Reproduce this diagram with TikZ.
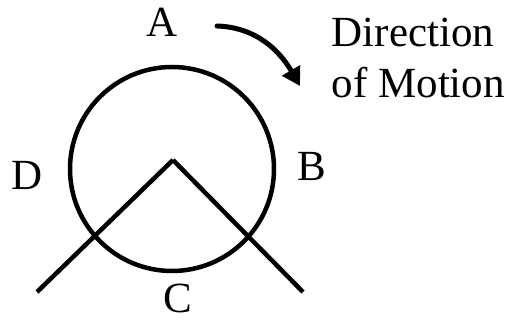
\documentclass[tikz,border=0pt]{standalone}
\usepackage{fontspec}
\setmainfont{Liberation Serif}
\usetikzlibrary{arrows.meta}
\begin{document}
\begin{tikzpicture}[x=1pt,y=1pt,
    lbl/.style={font=\fontsize{43}{51}\selectfont,inner sep=0pt},
    bar/.style={line width=4.5pt}]
    \useasboundingbox (0,0) rectangle (506,320);
    \draw[bar] (172,151) circle (102pt);
    \coordinate (apex) at (173,160);
    \coordinate (leftend) at (37,28);
    \coordinate (rightend) at (303,28);
    \draw[bar] (apex) -- (leftend);
    \draw[bar] (apex) -- (rightend);
    \node[lbl,anchor=base] (A) at (162,283) {A};
    \node[lbl,anchor=base] (B) at (312,139) {B};
    \node[lbl,anchor=base] (C) at (177.5,7.5) {C};
    \node[lbl,anchor=base] (D) at (27,130) {D};
    \node[lbl,align=left,anchor=north west] (motion) at (331.5,302) {Direction\\of Motion};
    \coordinate (arcstart) at (217,294);
    \coordinate (arcend) at (300,234);
    \draw[line width=5pt,line cap=round,-{Triangle[length=18pt,width=20pt]}] (arcstart) to[out=-2,in=120] (arcend);
\end{tikzpicture}
\end{document}
